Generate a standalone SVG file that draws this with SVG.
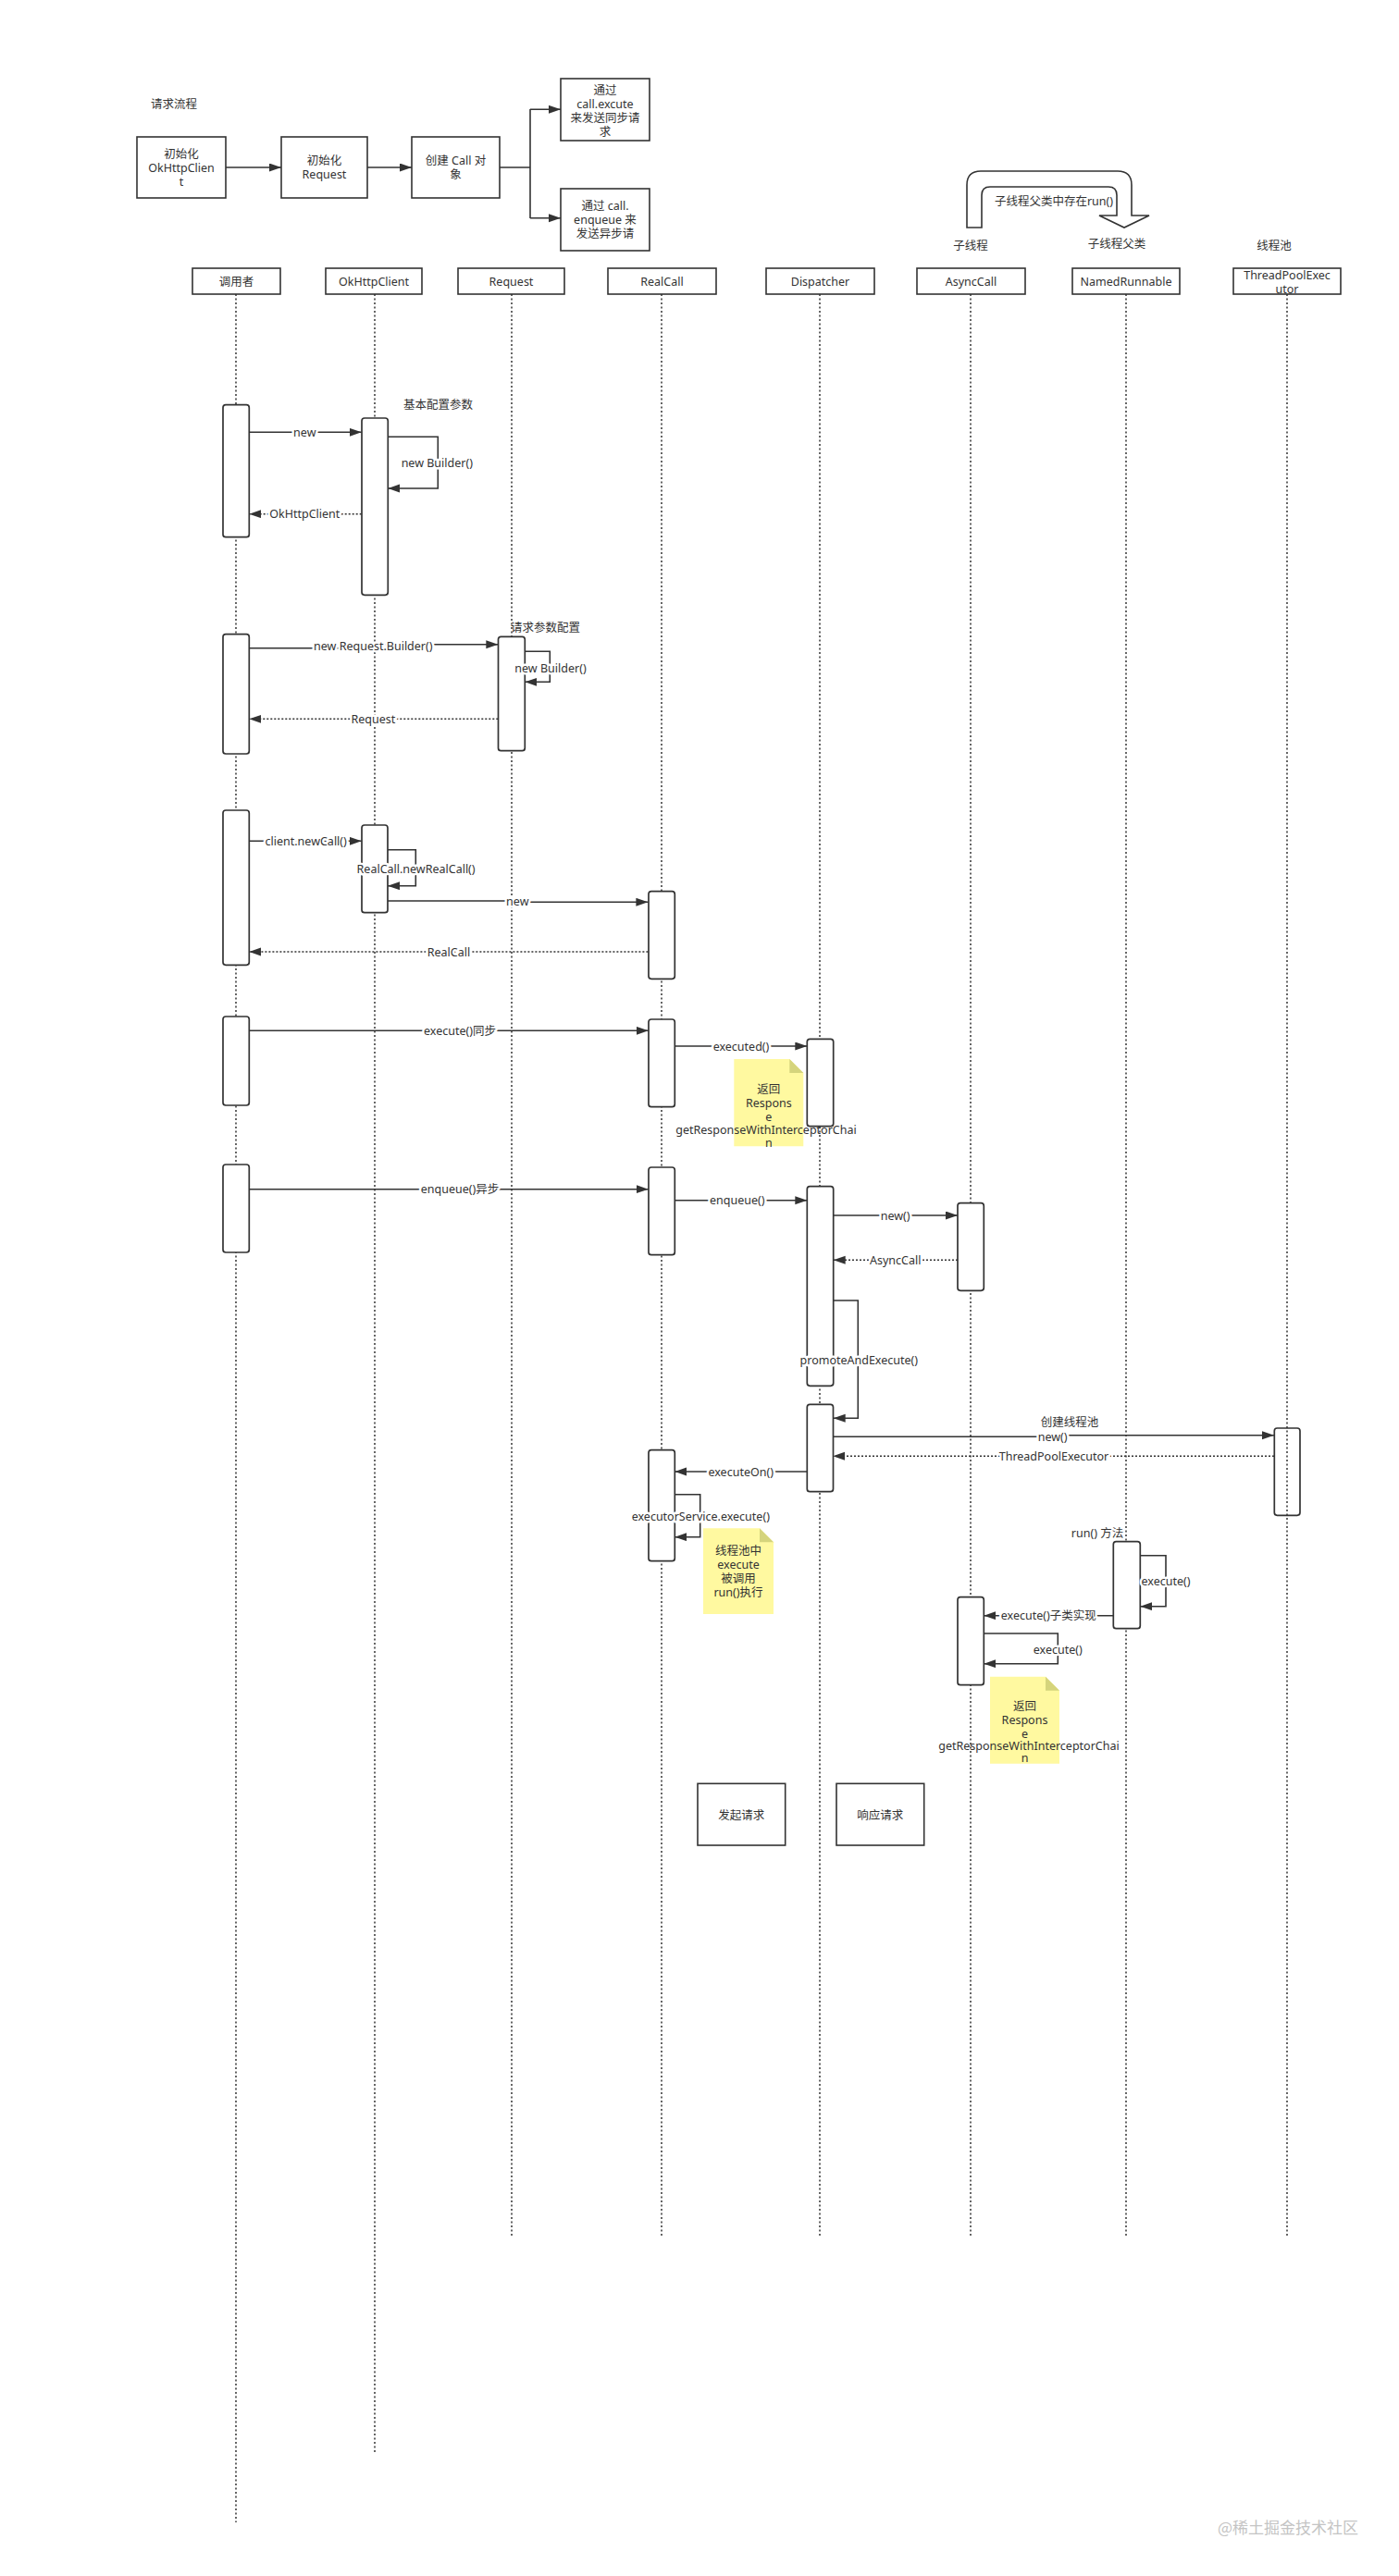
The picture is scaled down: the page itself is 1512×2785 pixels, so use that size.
<svg xmlns="http://www.w3.org/2000/svg" width="1512" height="2785" viewBox="0 0 1512 2785">
<style>
.bg{fill:#fff}
.box{fill:#fff;stroke:#333;stroke-width:1.6}
.act{fill:#fff;stroke:#333;stroke-width:1.7}
.actn{fill:none;stroke:#333;stroke-width:1.7}
.life{stroke:#333;stroke-width:1.5;stroke-dasharray:2 2.5;fill:none}
.msg{stroke:#333;stroke-width:1.6;fill:none}
.ret{stroke:#333;stroke-width:1.5;stroke-dasharray:2 2;fill:none}
.t{font-family:"Noto Sans","Noto Sans CJK SC",sans-serif;font-size:12.5px;fill:#333;text-anchor:middle;dominant-baseline:central}
.lbl{paint-order:stroke;stroke:#fff;stroke-width:5px;stroke-linejoin:round}
.note{fill:#FFF9A0}
.fold{fill:#D5D47C}
.wm{font-family:"Noto Sans CJK SC",sans-serif;font-size:17px;fill:#c4c4c4;text-anchor:end;dominant-baseline:central}
</style>
<defs>
<marker id="ah" markerUnits="userSpaceOnUse" markerWidth="14" markerHeight="10" refX="13" refY="4.5" orient="auto">
<path d="M0,0 L13,4.5 L0,9 Z" fill="#333"/>
</marker>
</defs>
<rect class="bg" x="0" y="0" width="1512" height="2785"/>

<g id="flow-title"><text class="t" x="188" y="112">请求流程</text></g>
<g id="flow-init-client"><rect class="box" x="148" y="148" width="96" height="66"/><text class="t" x="196" y="166">初始化</text><text class="t" x="196" y="181">OkHttpClien</text><text class="t" x="196" y="196">t</text></g>
<g id="flow-init-request"><rect class="box" x="304" y="148" width="93" height="66"/><text class="t" x="350.5" y="173.5">初始化</text><text class="t" x="350.5" y="188.5">Request</text></g>
<g id="flow-create-call"><rect class="box" x="445" y="148" width="95" height="66"/><text class="t" x="492.5" y="173.5">创建 Call 对</text><text class="t" x="492.5" y="188.5">象</text></g>
<g id="flow-sync"><rect class="box" x="606" y="85" width="96" height="67"/><text class="t" x="654" y="97">通过</text><text class="t" x="654" y="112">call.excute</text><text class="t" x="654" y="127">来发送同步请</text><text class="t" x="654" y="142">求</text></g>
<g id="flow-async"><rect class="box" x="606" y="204" width="96" height="67"/><text class="t" x="654" y="222.5">通过 call.</text><text class="t" x="654" y="237.5">enqueue 来</text><text class="t" x="654" y="252.5">发送异步请</text></g>

<g id="inherit-arrow">
<path d="M1045,246 V200 Q1045,185 1060,185 H1208 Q1223,185 1223,200 V233 H1242 L1215,246 L1188,233 H1207 V211 Q1207,202 1198,202 H1070 Q1061,202 1061,211 V246 Z" fill="#fff" stroke="#333" stroke-width="1.6"/>
<text class="t" x="1139" y="217">子线程父类中存在run()</text>
</g>
<g id="header-labels">
<text class="t" x="1049" y="265">子线程</text>
<text class="t" x="1207" y="263">子线程父类</text>
<text class="t" x="1377" y="265">线程池</text>
</g>

<g id="lifelines">
<line class="life" x1="255" y1="318" x2="255" y2="2727"/>
<line class="life" x1="405" y1="318" x2="405" y2="2652"/>
<line class="life" x1="553" y1="318" x2="553" y2="2418"/>
<line class="life" x1="715" y1="318" x2="715" y2="2418"/>
<line class="life" x1="886" y1="318" x2="886" y2="2418"/>
<line class="life" x1="1049" y1="318" x2="1049" y2="2418"/>
<line class="life" x1="1217" y1="318" x2="1217" y2="2418"/>
<line class="life" x1="1391" y1="318" x2="1391" y2="2418"/>
</g>

<g id="caller"><rect class="box" x="208" y="290" width="95" height="28"/><text class="t" x="255.5" y="304">调用者</text>
<rect class="act" x="241" y="437.7" width="28.3" height="143" rx="3"/>
<rect class="act" x="241" y="685.7" width="28.3" height="129.3" rx="3"/>
<rect class="act" x="241" y="876" width="28.3" height="167.3" rx="3"/>
<rect class="act" x="241" y="1099" width="28.3" height="96" rx="3"/>
<rect class="act" x="241" y="1259" width="28.3" height="95" rx="3"/>
</g>
<g id="okhttpclient"><rect class="box" x="352" y="290" width="104" height="28"/><text class="t" x="404" y="304">OkHttpClient</text>
<rect class="act" x="391" y="452" width="28.3" height="191.3" rx="3"/>
<rect class="act" x="391" y="892" width="28" height="94.7" rx="3"/>
</g>
<g id="request"><rect class="box" x="495" y="290" width="115" height="28"/><text class="t" x="552.5" y="304">Request</text>
<rect class="act" x="538.5" y="688.3" width="28.8" height="123.4" rx="3"/>
</g>
<g id="realcall"><rect class="box" x="657" y="290" width="117" height="28"/><text class="t" x="715.5" y="304">RealCall</text>
<rect class="act" x="701" y="963.7" width="28.3" height="94.6" rx="3"/>
<rect class="act" x="701" y="1102" width="28.3" height="94.7" rx="3"/>
<rect class="act" x="701" y="1262" width="28.3" height="94.7" rx="3"/>
<rect class="act" x="701" y="1567.7" width="28.3" height="120" rx="3"/>
</g>
<g id="dispatcher"><rect class="box" x="828" y="290" width="117" height="28"/><text class="t" x="886.5" y="304">Dispatcher</text>
<rect class="act" x="872.3" y="1123.3" width="28.4" height="94.4" rx="3"/>
<rect class="act" x="872.3" y="1282.7" width="28.4" height="215.6" rx="3"/>
<rect class="act" x="872.3" y="1518.3" width="28.2" height="94.4" rx="3"/>
</g>
<g id="asynccall"><rect class="box" x="991" y="290" width="117" height="28"/><text class="t" x="1049.5" y="304">AsyncCall</text>
<rect class="act" x="1035" y="1300.7" width="28.3" height="94.6" rx="3"/>
<rect class="act" x="1035" y="1726.7" width="28.3" height="95" rx="3"/>
</g>
<g id="namedrunnable"><rect class="box" x="1159" y="290" width="116" height="28"/><text class="t" x="1217" y="304">NamedRunnable</text>
<rect class="act" x="1203.3" y="1666.7" width="29" height="94" rx="3"/>
</g>
<g id="threadpoolexecutor"><rect class="box" x="1333" y="290" width="116" height="28"/><text class="t" x="1391" y="297">ThreadPoolExec</text><text class="t" x="1391" y="312">utor</text>
<rect class="actn" x="1377.3" y="1544" width="27.7" height="94.3" rx="3"/>
</g>

<g id="connectors">
<path class="msg" d="M244,181 H304" marker-end="url(#ah)"/>
<path class="msg" d="M397,181 H445" marker-end="url(#ah)"/>
<path class="msg" d="M540,181 H573 M573,118 V236"/>
<path class="msg" d="M573,118.3 H606" marker-end="url(#ah)"/>
<path class="msg" d="M573,235.7 H606" marker-end="url(#ah)"/>

<path class="msg" d="M269.3,467.3 H390.7" marker-end="url(#ah)"/>
<path class="msg" d="M419.3,472.3 H473.3 V528 H419.3" marker-end="url(#ah)"/>
<path class="ret" d="M390.7,555.7 H269.3" marker-end="url(#ah)"/>
<path class="msg" d="M269.3,700.7 H398 L408,696.7 H538.3" marker-end="url(#ah)"/>
<path class="msg" d="M567.3,704.3 H594.3 V737.3 H567.3" marker-end="url(#ah)"/>
<path class="ret" d="M538.3,777.3 H269.3" marker-end="url(#ah)"/>
<path class="msg" d="M269.3,909.3 H390.7" marker-end="url(#ah)"/>
<path class="msg" d="M419,918.7 H449.3 V957.7 H419" marker-end="url(#ah)"/>
<path class="msg" d="M419,974 H555 L563,975.3 H700.4" marker-end="url(#ah)"/>
<path class="ret" d="M700.4,1029 H269.3" marker-end="url(#ah)"/>
<path class="msg" d="M269.3,1114.3 H700.7" marker-end="url(#ah)"/>
<path class="msg" d="M729.3,1131 H872.3" marker-end="url(#ah)"/>
<path class="msg" d="M269.3,1285.7 H700.7" marker-end="url(#ah)"/>
<path class="msg" d="M729.3,1297.7 H872.3" marker-end="url(#ah)"/>
<path class="msg" d="M900.7,1314 H1035" marker-end="url(#ah)"/>
<path class="ret" d="M1035,1362.3 H900.7" marker-end="url(#ah)"/>
<path class="msg" d="M900.7,1406 H927.3 V1533.3 H900.7" marker-end="url(#ah)"/>
<path class="msg" d="M900.2,1553.3 H1132 L1143,1551.7 H1377" marker-end="url(#ah)"/>
<path class="ret" d="M1377,1574.3 H900.2" marker-end="url(#ah)"/>
<path class="msg" d="M872.3,1591 H729.3" marker-end="url(#ah)"/>
<path class="msg" d="M729.3,1615.7 H756.7 V1661.7 H729.3" marker-end="url(#ah)"/>
<path class="msg" d="M1232.3,1681.7 H1260 V1736.7 H1232.3" marker-end="url(#ah)"/>
<path class="msg" d="M1203.3,1746.7 H1063.3" marker-end="url(#ah)"/>
<path class="msg" d="M1063.3,1766 H1143.3 V1798.7 H1063.3" marker-end="url(#ah)"/>
</g>

<g id="labels">
<text class="t" x="473.5" y="437.3">基本配置参数</text>
<text class="t" x="589.5" y="678.3">请求参数配置</text>
<text class="t lbl" x="329.3" y="467.3">new</text>
<text class="t lbl" x="472.3" y="500.3">new Builder()</text>
<text class="t lbl" x="329.3" y="555.7">OkHttpClient</text>
<text class="t lbl" x="403.3" y="698.7">new Request.Builder()</text>
<text class="t lbl" x="595" y="722.3">new Builder()</text>
<text class="t lbl" x="403.3" y="777.3">Request</text>
<text class="t lbl" x="330.7" y="909.3">client.newCall()</text>
<text class="t lbl" x="449.6" y="939">RealCall.newRealCall()</text>
<text class="t lbl" x="559.3" y="974.6">new</text>
<text class="t lbl" x="485" y="1029">RealCall</text>
<text class="t lbl" x="497" y="1114.3">execute()同步</text>
<text class="t lbl" x="801" y="1131">executed()</text>
<text class="t lbl" x="497" y="1285.7">enqueue()异步</text>
<text class="t lbl" x="796.7" y="1297.7">enqueue()</text>
<text class="t lbl" x="967.7" y="1314">new()</text>
<text class="t lbl" x="967.7" y="1362.3">AsyncCall</text>
<text class="t lbl" x="928.3" y="1470">promoteAndExecute()</text>
<text class="t" x="1156" y="1537.7">创建线程池</text>
<text class="t lbl" x="1137.7" y="1553">new()</text>
<text class="t lbl" x="1139" y="1574.3">ThreadPoolExecutor</text>
<text class="t lbl" x="800.7" y="1591">executeOn()</text>
<text class="t lbl" x="757.3" y="1639">executorService.execute()</text>
<text class="t" x="1186" y="1657.3">run() 方法</text>
<text class="t lbl" x="1260" y="1709">execute()</text>
<text class="t lbl" x="1133.3" y="1746.7">execute()子类实现</text>
<text class="t lbl" x="1143.3" y="1783.3">execute()</text>
</g>

<g id="note-sync">
<path class="note" d="M793.3,1145 H853.3 L868.3,1160 V1239.3 H793.3 Z"/>
<path class="fold" d="M853.3,1145 L868.3,1160 H853.3 Z"/>
<text class="t" x="830.8" y="1177.5">返回</text>
<text class="t" x="830.8" y="1192.5">Respons</text>
<text class="t" x="830.8" y="1207">e</text>
<text class="t" x="828" y="1221">getResponseWithInterceptorChai</text>
<text class="t" x="830.8" y="1235.5">n</text>
</g>
<g id="note-threadpool">
<path class="note" d="M760,1652.3 H821 L836,1667.3 V1745 H760 Z"/>
<path class="fold" d="M821,1652.3 L836,1667.3 H821 Z"/>
<text class="t" x="798" y="1676.7">线程池中</text>
<text class="t" x="798" y="1691.7">execute</text>
<text class="t" x="798" y="1706.7">被调用</text>
<text class="t" x="798" y="1721.7">run()执行</text>
</g>
<g id="note-async">
<path class="note" d="M1070,1812.7 H1130 L1145,1827.7 V1906.7 H1070 Z"/>
<path class="fold" d="M1130,1812.7 L1145,1827.7 H1130 Z"/>
<text class="t" x="1107.5" y="1844.3">返回</text>
<text class="t" x="1107.5" y="1859.5">Respons</text>
<text class="t" x="1107.5" y="1874">e</text>
<text class="t" x="1112" y="1887">getResponseWithInterceptorChai</text>
<text class="t" x="1107.5" y="1900.5">n</text>
</g>

<g id="legend-request"><rect class="box" x="754" y="1928.3" width="94.7" height="66.7"/><text class="t" x="801.3" y="1962">发起请求</text></g>
<g id="legend-response"><rect class="box" x="904" y="1928.3" width="94.7" height="66.7"/><text class="t" x="951.3" y="1962">响应请求</text></g>

<text class="wm" x="1468" y="2731">@稀土掘金技术社区</text>
</svg>
